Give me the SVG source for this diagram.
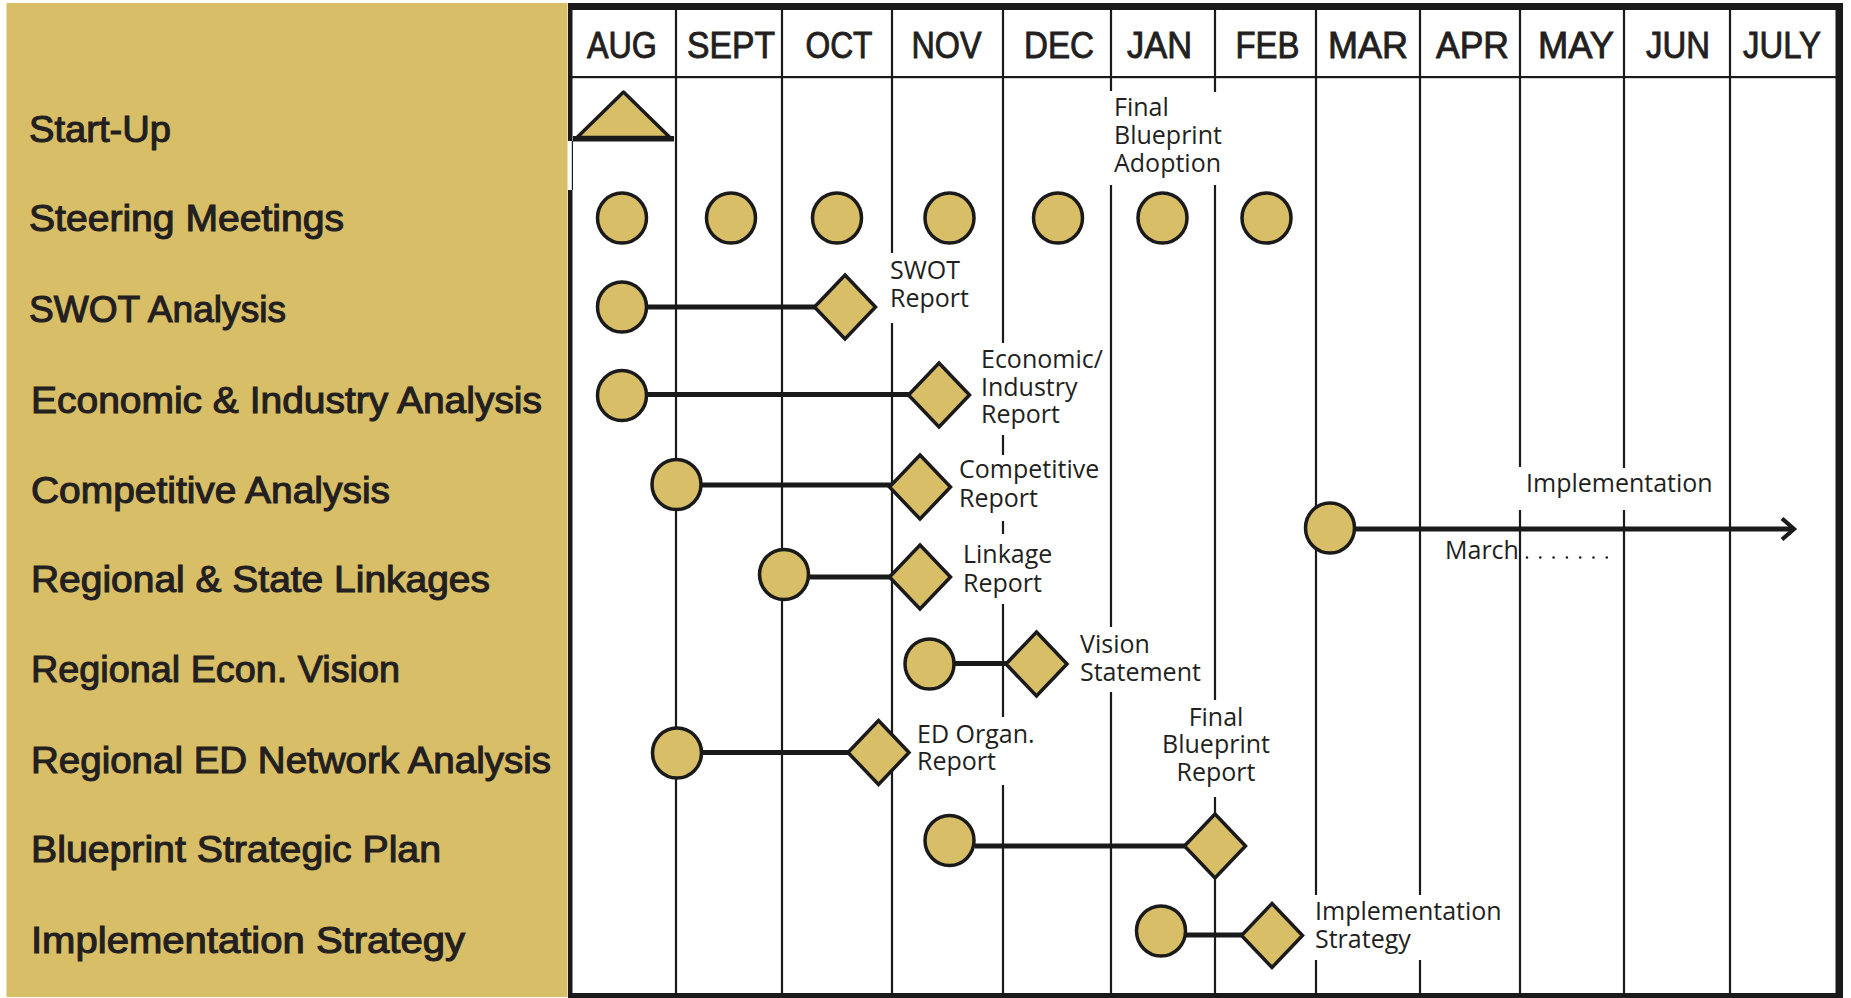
<svg xmlns="http://www.w3.org/2000/svg" xmlns:xlink="http://www.w3.org/1999/xlink" width="1851" height="998" viewBox="0 0 1851 998">
<style>
.lbl{font-family:"Liberation Sans",Arial,sans-serif;font-size:37px;fill:#231f20;stroke:#231f20;stroke-width:1.1px}
.mon{font-family:"Liberation Sans",Arial,sans-serif;font-size:36px;fill:#231f20;stroke:#231f20;stroke-width:0.9px;text-anchor:middle}
.ann{font-family:"Open Sans","Liberation Sans",Arial,sans-serif;font-size:25px;fill:#231f20}
.grid line{stroke:#1a1a1a;stroke-width:2.2px}
.conn line{stroke:#1a1a1a;stroke-width:5px;fill:none}
.ms{fill:#d8be66;stroke:#1a1a1a;stroke-width:3.5px}
.frame{fill:#1a1a1a}
</style>
<defs>
<ellipse id="dot" class="ms" cx="0" cy="0" rx="24.5" ry="25"/>
<polygon id="dia" class="ms" points="0,-32 30.5,0 0,32 -30.5,0"/>
<marker id="chev" viewBox="0 0 18 26" refX="14" refY="13" markerWidth="18" markerHeight="26" markerUnits="userSpaceOnUse" orient="auto">
<path d="M2,2.5 L14,13 L2,23.5" fill="none" stroke="#1a1a1a" stroke-width="4.2"/>
</marker>
</defs>
<rect width="1851" height="998" fill="#ffffff"/>
<rect x="6.5" y="3" width="561" height="994" fill="#d8be66"/>
<g id="row-labels">
<text class="lbl" x="29" y="142" textLength="142" lengthAdjust="spacingAndGlyphs">Start-Up</text>
<text class="lbl" x="29" y="231" textLength="315" lengthAdjust="spacingAndGlyphs">Steering Meetings</text>
<text class="lbl" x="29" y="322" textLength="257" lengthAdjust="spacingAndGlyphs">SWOT Analysis</text>
<text class="lbl" x="31" y="413" textLength="511" lengthAdjust="spacingAndGlyphs">Economic &amp; Industry Analysis</text>
<text class="lbl" x="31" y="503" textLength="359" lengthAdjust="spacingAndGlyphs">Competitive Analysis</text>
<text class="lbl" x="31" y="592" textLength="459" lengthAdjust="spacingAndGlyphs">Regional &amp; State Linkages</text>
<text class="lbl" x="31" y="682" textLength="369" lengthAdjust="spacingAndGlyphs">Regional Econ. Vision</text>
<text class="lbl" x="31" y="773" textLength="520" lengthAdjust="spacingAndGlyphs">Regional ED Network Analysis</text>
<text class="lbl" x="31" y="862" textLength="410" lengthAdjust="spacingAndGlyphs">Blueprint Strategic Plan</text>
<text class="lbl" x="31" y="953" textLength="434" lengthAdjust="spacingAndGlyphs">Implementation Strategy</text>
</g>
<g id="frame">
<rect class="frame" x="568" y="3" width="1275" height="7"/>
<rect class="frame" x="1835.5" y="3" width="7.5" height="995"/>
<rect class="frame" x="568" y="993" width="1275" height="5"/>
<rect class="frame" x="568" y="3" width="4.5" height="138"/>
<rect class="frame" x="568" y="190" width="4.5" height="808"/>
<rect class="frame" x="571.8" y="141" width="1.2" height="49"/>
<rect class="frame" x="572" y="76" width="1264" height="2.2"/>
</g>
<g class="grid" id="grid">
<line x1="676" y1="10" x2="676" y2="994"/>
<line x1="782" y1="10" x2="782" y2="994"/>
<line x1="892" y1="10" x2="892" y2="253"/>
<line x1="892" y1="323" x2="892" y2="994"/>
<line x1="1003" y1="10" x2="1003" y2="343"/>
<line x1="1003" y1="435" x2="1003" y2="455"/>
<line x1="1003" y1="521" x2="1003" y2="534"/>
<line x1="1003" y1="604" x2="1003" y2="717"/>
<line x1="1003" y1="785" x2="1003" y2="994"/>
<line x1="1111" y1="10" x2="1111" y2="91"/>
<line x1="1111" y1="185" x2="1111" y2="627"/>
<line x1="1111" y1="692" x2="1111" y2="994"/>
<line x1="1215" y1="10" x2="1215" y2="92"/>
<line x1="1215" y1="185" x2="1215" y2="700"/>
<line x1="1215" y1="797" x2="1215" y2="994"/>
<line x1="1316" y1="10" x2="1316" y2="895"/>
<line x1="1316" y1="960" x2="1316" y2="994"/>
<line x1="1420" y1="10" x2="1420" y2="895"/>
<line x1="1420" y1="960" x2="1420" y2="994"/>
<line x1="1520" y1="10" x2="1520" y2="467"/>
<line x1="1520" y1="510" x2="1520" y2="994"/>
<line x1="1624" y1="10" x2="1624" y2="468"/>
<line x1="1624" y1="510" x2="1624" y2="994"/>
<line x1="1730" y1="10" x2="1730" y2="994"/>
</g>
<g id="months">
<text class="mon" x="622" y="58" textLength="70" lengthAdjust="spacingAndGlyphs">AUG</text>
<text class="mon" x="731" y="58" textLength="88" lengthAdjust="spacingAndGlyphs">SEPT</text>
<text class="mon" x="839" y="58" textLength="67" lengthAdjust="spacingAndGlyphs">OCT</text>
<text class="mon" x="946.5" y="58" textLength="70" lengthAdjust="spacingAndGlyphs">NOV</text>
<text class="mon" x="1059" y="58" textLength="70" lengthAdjust="spacingAndGlyphs">DEC</text>
<text class="mon" x="1159.5" y="58" textLength="65" lengthAdjust="spacingAndGlyphs">JAN</text>
<text class="mon" x="1267.5" y="58" textLength="64" lengthAdjust="spacingAndGlyphs">FEB</text>
<text class="mon" x="1368" y="58" textLength="80" lengthAdjust="spacingAndGlyphs">MAR</text>
<text class="mon" x="1472.5" y="58" textLength="73" lengthAdjust="spacingAndGlyphs">APR</text>
<text class="mon" x="1576" y="58" textLength="76" lengthAdjust="spacingAndGlyphs">MAY</text>
<text class="mon" x="1678" y="58" textLength="64" lengthAdjust="spacingAndGlyphs">JUN</text>
<text class="mon" x="1782" y="58" textLength="78" lengthAdjust="spacingAndGlyphs">JULY</text>
</g>
<g class="conn" id="connectors">
<line x1="648" y1="307" x2="816" y2="307"/>
<line x1="648" y1="394.5" x2="910" y2="394.5"/>
<line x1="702" y1="485" x2="891" y2="485"/>
<line x1="810" y1="577" x2="891" y2="577"/>
<line x1="955" y1="663.5" x2="1007" y2="663.5"/>
<line x1="703" y1="752.5" x2="849" y2="752.5"/>
<line x1="975" y1="846" x2="1186" y2="846"/>
<line x1="1186" y1="935" x2="1243" y2="935"/>
<line x1="1356" y1="529" x2="1794" y2="529" marker-end="url(#chev)"/>
<line x1="1527" y1="557.5" x2="1620.1" y2="557.5" style="stroke-width:2.6px;stroke-dasharray:0 13.3;stroke-linecap:round"/>
</g>
<g id="start-up">
<polygon class="ms" points="623.5,92 577,137.5 670,137.5" stroke-linejoin="round"/>
<rect class="frame" x="573" y="136" width="101" height="5.5"/>
</g>
<g id="steering-meetings">
<use xlink:href="#dot" x="622" y="218"/>
<use xlink:href="#dot" x="731" y="218"/>
<use xlink:href="#dot" x="837" y="218"/>
<use xlink:href="#dot" x="949.5" y="218"/>
<use xlink:href="#dot" x="1058" y="218"/>
<use xlink:href="#dot" x="1162.5" y="218"/>
<use xlink:href="#dot" x="1266.5" y="218"/>
</g>
<g id="swot">
<use xlink:href="#dot" x="622" y="307"/>
<use xlink:href="#dia" x="845" y="307"/>
</g>
<g id="economic">
<use xlink:href="#dot" x="622" y="395.5"/>
<use xlink:href="#dia" x="939" y="395"/>
</g>
<g id="competitive">
<use xlink:href="#dot" x="676.5" y="484.5"/>
<use xlink:href="#dia" x="920" y="487"/>
</g>
<g id="linkages">
<use xlink:href="#dot" x="784" y="574.5"/>
<use xlink:href="#dia" x="920" y="577"/>
</g>
<g id="vision">
<use xlink:href="#dot" x="929.5" y="664"/>
<use xlink:href="#dia" x="1036.5" y="664"/>
</g>
<g id="ed-network">
<use xlink:href="#dot" x="677" y="753"/>
<use xlink:href="#dia" x="878.5" y="752.5"/>
</g>
<g id="blueprint">
<use xlink:href="#dot" x="949.5" y="840.5"/>
<use xlink:href="#dia" x="1215" y="846"/>
</g>
<g id="impl-strategy">
<use xlink:href="#dot" x="1161" y="931"/>
<use xlink:href="#dia" x="1272" y="935.5"/>
</g>
<g id="implementation">
<use xlink:href="#dot" x="1330" y="528"/>
</g>
<g id="annotations">
<text class="ann"><tspan x="1114" y="116">Final</tspan><tspan x="1114" y="143.5">Blueprint</tspan><tspan x="1114" y="171.5">Adoption</tspan></text>
<text class="ann"><tspan x="890" y="279">SWOT</tspan><tspan x="890" y="307">Report</tspan></text>
<text class="ann"><tspan x="981" y="368">Economic/</tspan><tspan x="981" y="396">Industry</tspan><tspan x="981" y="423">Report</tspan></text>
<text class="ann"><tspan x="959" y="478">Competitive</tspan><tspan x="959" y="506.5">Report</tspan></text>
<text class="ann"><tspan x="963" y="563">Linkage</tspan><tspan x="963" y="591.5">Report</tspan></text>
<text class="ann"><tspan x="1080" y="652.5">Vision</tspan><tspan x="1080" y="680.5">Statement</tspan></text>
<text class="ann"><tspan x="917" y="742.5">ED Organ.</tspan><tspan x="917" y="770">Report</tspan></text>
<text class="ann" text-anchor="middle"><tspan x="1216" y="725.5">Final</tspan><tspan x="1216" y="752.5">Blueprint</tspan><tspan x="1216" y="781">Report</tspan></text>
<text class="ann"><tspan x="1315" y="920">Implementation</tspan><tspan x="1315" y="948">Strategy</tspan></text>
<text class="ann" x="1526" y="492">Implementation</text>
<text class="ann" x="1445" y="559">March</text>
</g>
</svg>
